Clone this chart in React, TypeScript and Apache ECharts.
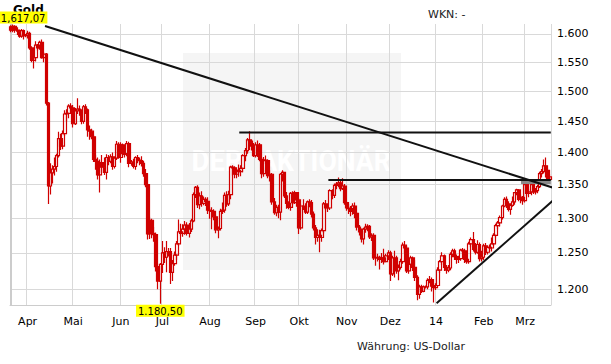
import React, { useEffect, useRef } from "react";
import * as echarts from "echarts";

// Daily candles [open, close, low, high] in USD, one array per month
const mar13 = [
  [1613, 1607, 1603, 1616], [1607, 1614, 1603, 1617.07], [1614, 1607, 1602, 1616], [1607, 1605, 1598, 1612],
  [1605, 1596, 1593, 1608], [1596, 1606, 1593, 1609], [1606, 1597, 1590, 1608], [1597, 1598, 1594, 1600],
];
const apr13 = [
  [1598, 1601, 1592, 1606], [1601, 1575, 1572, 1604], [1575, 1553, 1550, 1578], [1553, 1558, 1539, 1561],
  [1558, 1580, 1551, 1587], [1580, 1575, 1570, 1582], [1575, 1585, 1572, 1588], [1585, 1558, 1556, 1590],
  [1558, 1564, 1550, 1568], [1564, 1480, 1476, 1566], [1480, 1348, 1321, 1482], [1348, 1368, 1335, 1383],
  [1368, 1374, 1352, 1380], [1374, 1378, 1364, 1392], [1378, 1395, 1370, 1398], [1395, 1422, 1392, 1433],
  [1422, 1410, 1404, 1430], [1410, 1430, 1405, 1435], [1430, 1462, 1426, 1468], [1462, 1463, 1450, 1470],
  [1463, 1475, 1455, 1478], [1475, 1472, 1465, 1480],
];
const may13 = [
  [1472, 1446, 1440, 1477], [1446, 1467, 1444, 1472], [1467, 1470, 1462, 1488], [1470, 1468, 1459, 1476],
  [1468, 1450, 1445, 1470], [1450, 1474, 1446, 1477], [1474, 1469, 1462, 1478], [1469, 1436, 1425, 1471],
  [1436, 1434, 1420, 1443], [1434, 1425, 1421, 1438], [1425, 1389, 1385, 1428], [1389, 1386, 1373, 1396],
  [1386, 1365, 1358, 1392], [1365, 1384, 1338, 1389], [1384, 1377, 1368, 1396], [1377, 1369, 1365, 1392],
  [1369, 1392, 1358, 1397], [1392, 1386, 1380, 1396], [1386, 1393, 1383, 1397], [1393, 1378, 1373, 1400],
  [1378, 1391, 1375, 1394], [1391, 1413, 1388, 1418], [1413, 1392, 1390, 1416],
];
const jun13 = [
  [1392, 1412, 1384, 1416], [1412, 1398, 1395, 1414], [1398, 1397, 1392, 1405], [1397, 1414, 1394, 1418],
  [1414, 1383, 1377, 1417], [1383, 1385, 1379, 1388], [1385, 1378, 1375, 1390], [1378, 1392, 1373, 1394],
  [1392, 1388, 1383, 1396], [1388, 1387, 1380, 1392], [1387, 1383, 1378, 1394], [1383, 1367, 1362, 1387],
  [1367, 1350, 1346, 1374], [1350, 1277, 1269, 1352], [1277, 1297, 1270, 1302], [1297, 1278, 1271, 1299],
  [1278, 1276, 1266, 1287], [1276, 1231, 1224, 1279], [1231, 1211, 1200, 1235], [1211, 1234, 1180.5, 1236],
];
const jul13 = [
  [1234, 1250, 1222, 1267], [1250, 1244, 1236, 1258], [1244, 1252, 1223, 1267], [1252, 1252, 1245, 1257],
  [1252, 1223, 1207, 1257], [1223, 1235, 1211, 1240], [1235, 1247, 1232, 1252], [1247, 1263, 1240, 1267],
  [1263, 1280, 1260, 1298], [1280, 1278, 1275, 1292], [1278, 1284, 1273, 1291], [1284, 1290, 1276, 1296],
  [1290, 1278, 1275, 1294], [1278, 1284, 1272, 1293], [1284, 1296, 1280, 1299], [1296, 1335, 1294, 1338],
  [1335, 1346, 1330, 1348], [1346, 1320, 1315, 1349], [1320, 1333, 1313, 1338], [1333, 1322, 1317, 1340],
  [1322, 1328, 1319, 1332], [1328, 1325, 1318, 1331], [1325, 1312, 1306, 1331],
];
const aug13 = [
  [1312, 1311, 1299, 1316], [1311, 1310, 1284, 1316], [1310, 1302, 1297, 1313], [1302, 1283, 1278, 1305],
  [1283, 1285, 1271, 1288], [1285, 1310, 1282, 1314], [1310, 1312, 1306, 1323], [1312, 1334, 1308, 1338],
  [1334, 1321, 1317, 1340], [1321, 1335, 1318, 1341], [1335, 1377, 1328, 1379], [1377, 1376, 1364, 1380],
  [1376, 1366, 1360, 1378], [1366, 1372, 1360, 1374], [1372, 1370, 1362, 1381], [1370, 1375, 1363, 1380],
  [1375, 1395, 1369, 1397], [1395, 1403, 1386, 1407], [1403, 1420, 1398, 1423], [1420, 1418, 1404, 1434],
  [1418, 1410, 1403, 1421], [1410, 1395, 1393, 1415],
];
const sep13 = [
  [1395, 1412, 1392, 1416], [1412, 1412, 1393, 1419], [1412, 1389, 1386, 1415], [1389, 1367, 1360, 1391],
  [1367, 1388, 1362, 1393], [1388, 1387, 1382, 1395], [1387, 1364, 1360, 1389], [1364, 1366, 1355, 1372],
  [1366, 1324, 1320, 1368], [1324, 1308, 1305, 1330], [1308, 1316, 1303, 1320], [1316, 1309, 1300, 1320],
  [1309, 1366, 1297, 1368], [1366, 1369, 1355, 1372], [1369, 1333, 1330, 1370], [1333, 1322, 1314, 1339],
  [1322, 1316, 1313, 1325], [1316, 1337, 1311, 1339], [1337, 1323, 1320, 1340], [1323, 1338, 1321, 1341],
  [1338, 1327, 1317, 1339],
];
const oct13 = [
  [1327, 1286, 1277, 1330], [1286, 1318, 1283, 1321], [1318, 1317, 1312, 1328], [1317, 1309, 1306, 1322],
  [1309, 1324, 1306, 1326], [1324, 1323, 1316, 1328], [1323, 1306, 1301, 1327], [1306, 1286, 1282, 1310],
  [1286, 1272, 1262, 1290], [1272, 1275, 1266, 1284], [1275, 1272, 1251, 1283], [1272, 1282, 1266, 1285],
  [1282, 1321, 1278, 1324], [1321, 1315, 1312, 1327], [1315, 1315, 1309, 1320], [1315, 1341, 1312, 1343],
  [1341, 1334, 1328, 1343], [1334, 1349, 1330, 1352], [1349, 1351, 1343, 1354], [1351, 1353, 1346, 1361],
  [1353, 1344, 1340, 1357], [1344, 1348, 1342, 1360], [1348, 1323, 1320, 1351],
];
const nov13 = [
  [1323, 1315, 1311, 1325], [1315, 1314, 1306, 1321], [1314, 1310, 1303, 1318], [1310, 1318, 1305, 1322],
  [1318, 1307, 1300, 1323], [1307, 1287, 1282, 1309], [1287, 1280, 1275, 1290], [1280, 1270, 1265, 1285],
  [1270, 1284, 1262, 1286], [1284, 1287, 1279, 1292], [1287, 1288, 1281, 1291], [1288, 1273, 1270, 1290],
  [1273, 1275, 1267, 1278], [1275, 1243, 1240, 1278], [1243, 1243, 1232, 1248], [1243, 1244, 1238, 1249],
  [1244, 1241, 1227, 1246], [1241, 1243, 1236, 1250], [1243, 1238, 1234, 1256], [1238, 1246, 1237, 1249],
  [1246, 1250, 1240, 1254],
];
const dec13 = [
  [1250, 1221, 1211, 1253], [1221, 1243, 1218, 1246], [1243, 1243, 1216, 1253], [1243, 1225, 1221, 1246],
  [1225, 1230, 1212, 1234], [1230, 1238, 1227, 1242], [1238, 1261, 1235, 1265], [1261, 1257, 1250, 1267],
  [1257, 1225, 1222, 1260], [1225, 1234, 1221, 1238], [1234, 1243, 1231, 1246], [1243, 1230, 1225, 1245],
  [1230, 1216, 1211, 1240], [1216, 1193, 1185, 1219], [1193, 1203, 1187, 1206], [1203, 1197, 1195, 1206],
  [1197, 1203, 1196, 1205], [1203, 1203, 1201, 1205], [1203, 1212, 1200, 1215], [1212, 1213, 1208, 1218],
  [1213, 1204, 1197, 1216], [1204, 1202, 1182, 1208],
];
const jan14 = [
  [1202, 1205, 1199, 1208], [1205, 1226, 1203, 1230], [1226, 1238, 1222, 1240], [1238, 1246, 1233, 1251],
  [1246, 1230, 1225, 1248], [1230, 1226, 1221, 1233], [1226, 1229, 1223, 1233], [1229, 1248, 1226, 1251],
  [1248, 1253, 1244, 1256], [1253, 1245, 1240, 1256], [1245, 1241, 1235, 1248], [1241, 1242, 1236, 1246],
  [1242, 1254, 1239, 1256], [1254, 1253, 1249, 1257], [1253, 1241, 1236, 1256], [1241, 1238, 1235, 1245],
  [1238, 1263, 1235, 1266], [1263, 1269, 1258, 1272], [1269, 1255, 1252, 1280], [1255, 1251, 1248, 1264],
  [1251, 1262, 1249, 1268], [1262, 1242, 1238, 1265], [1242, 1244, 1238, 1253],
];
const feb14 = [
  [1244, 1260, 1240, 1263], [1260, 1251, 1247, 1264], [1251, 1258, 1248, 1261], [1258, 1257, 1252, 1262],
  [1257, 1263, 1252, 1272], [1263, 1275, 1260, 1278], [1275, 1289, 1272, 1292], [1289, 1293, 1284, 1296],
  [1293, 1301, 1288, 1304], [1301, 1318, 1298, 1320], [1318, 1328, 1316, 1331], [1328, 1321, 1315, 1332],
  [1321, 1313, 1310, 1325], [1313, 1319, 1305, 1322], [1319, 1324, 1317, 1332], [1324, 1338, 1320, 1339],
  [1338, 1342, 1334, 1344], [1342, 1328, 1325, 1343], [1328, 1331, 1322, 1335], [1331, 1326, 1320, 1333],
];
const mar14 = [
  [1326, 1350, 1323, 1355], [1350, 1337, 1333, 1354], [1337, 1339, 1331, 1343], [1339, 1350, 1334, 1352],
  [1350, 1339, 1336, 1353], [1339, 1341, 1335, 1345], [1341, 1347, 1337, 1350], [1347, 1367, 1345, 1370],
  [1367, 1370, 1361, 1374], [1370, 1379, 1367, 1389], [1379, 1372, 1361, 1392], [1372, 1358, 1354, 1375],
  [1358, 1362, 1355, 1366],
];

const firstDay = "2013-03-20";
const monthLabels = ["14", "Feb", "Mrz", "Apr", "Mai", "Jun", "Jul", "Aug", "Sep", "Okt", "Nov", "Dez"];
const yTicks = [1200, 1250, 1300, 1350, 1400, 1450, 1500, 1550, 1600];
const yRange = [1178.8, 1618.1];

const highPoint = { index: 1, price: 1617.07, text: "1,617,07" };
const lowPoint = { index: 72, price: 1180.5, text: "1.180,50" };

// Trend / support lines: [day index, price]
const downTrend = [[16.4, 1614.5], [261.8, 1345.1]];
const upTrend = [[205.3, 1181.1], [263.6, 1332.0]];
const resistAug = [[110.1, 1431.9], [260.4, 1431.9]];
const resistOct = [[153.1, 1357.3], [260.4, 1357.3]];
const grayBand = [[246.0, 1354.0], [260.4, 1354.0]];

const candles = [
  ...mar13, ...apr13, ...may13, ...jun13, ...jul13, ...aug13, ...sep13,
  ...oct13, ...nov13, ...dec13, ...jan14, ...feb14, ...mar14,
];

function weekdays(start: string, n: number): string[] {
  const out: string[] = [];
  const d = new Date(start + "T00:00:00Z");
  while (out.length < n) {
    const wd = d.getUTCDay();
    if (wd !== 0 && wd !== 6) out.push(d.toISOString().slice(0, 10));
    d.setUTCDate(d.getUTCDate() + 1);
  }
  return out;
}

const FONT = "DejaVu Sans";
const RED = "#d00000";
const GRID = "#d9d9d9";

export default function App() {
  const ref = useRef<HTMLDivElement>(null);

  useEffect(() => {
    if (!ref.current) return;
    const chart = echarts.init(ref.current, undefined, { renderer: "svg" });
    const dates = weekdays(firstDay, candles.length);
    const isMonthStart = (i: number) => i > 0 && dates[i].slice(5, 7) !== dates[i - 1].slice(5, 7);
    const L = Math.log;
    const fmt = (v: number) => {
      const n = Math.round(Math.exp(v));
      return Math.floor(n / 1000) + "." + String(n % 1000).padStart(3, "0");
    };
    const lineSeries = (pts: number[][], color: string, width: number, z: number) => ({
      type: "line",
      xAxisIndex: 1,
      yAxisIndex: 0,
      data: pts.map((p) => [p[0], L(p[1])]),
      symbol: "none",
      clip: false,
      silent: true,
      z,
      lineStyle: { color, width },
    });
    const yMin = L(yRange[0]);
    const yMax = L(yRange[1]);
    const tickVals = yTicks.map((v) => L(v));
    const yellow = {
      show: true,
      backgroundColor: "#ffff00",
      color: "#000",
      fontFamily: FONT,
      fontSize: 10,
      lineHeight: 11,
      padding: [1, 2, 0, 2],
    };

    chart.setOption({
      animation: false,
      backgroundColor: "#fff",
      grid: { left: 10, right: 60, top: 24, bottom: 59 },
      xAxis: [
        {
          type: "category",
          data: dates,
          boundaryGap: true,
          axisLine: { show: true, lineStyle: { color: "#cccccc" } },
          axisTick: { show: false },
          axisLabel: {
            interval: (i: number) => isMonthStart(i),
            formatter: (v: string) => monthLabels[parseInt(v.slice(5, 7), 10) - 1],
            color: "#000",
            fontFamily: FONT,
            fontSize: 11,
            margin: 11,
          },
          splitLine: { show: true, interval: (i: number) => isMonthStart(i), lineStyle: { color: GRID } },
        },
        { type: "value", min: -0.5, max: candles.length - 0.5, show: false },
      ],
      yAxis: [
        {
          type: "value",
          position: "right",
          min: yMin,
          max: yMax,
          axisLine: { show: true, lineStyle: { color: "#cccccc" } },
          axisTick: { show: false, customValues: tickVals },
          axisLabel: {
            customValues: tickVals,
            formatter: fmt,
            color: "#000",
            fontFamily: FONT,
            fontSize: 11,
            margin: 6,
          },
          splitLine: { show: true, lineStyle: { color: GRID } },
        },
        {
          type: "value",
          position: "left",
          min: yMin,
          max: yMax,
          axisLine: { show: true, lineStyle: { color: "#cccccc" } },
          axisTick: { show: false },
          axisLabel: { show: false },
          splitLine: { show: false },
        },
      ],
      graphic: [
        { type: "rect", z: -10, shape: { x: 183, y: 53, width: 218, height: 217 }, style: { fill: "#f5f5f5" } },
        {
          type: "text", z: -9, x: 217, y: 161, scaleX: 0.95,
          style: { text: "DER", x: 0, y: 0, align: "center", verticalAlign: "middle", textAlign: "center", textVerticalAlign: "middle", font: "bold 29px Roboto", fill: "#ffffff" },
        },
        {
          type: "text", z: -9, x: 325, y: 161, scaleX: 0.92,
          style: { text: "AKTIONÄR", x: 0, y: 0, align: "center", verticalAlign: "middle", textAlign: "center", textVerticalAlign: "middle", font: "bold 29px Roboto", fill: "#ffffff" },
        },
        {
          type: "text", z: 0, x: 13, y: 4,
          style: { text: "Gold", font: "bold 12px 'DejaVu Sans'", fill: "#000" },
        },
        {
          type: "text", z: 0, x: 428, y: 9,
          style: { text: "WKN: -", font: "11px 'DejaVu Sans'", fill: "#222" },
        },
        {
          type: "text", z: 0, x: 357, y: 341,
          style: { text: "Währung: US-Dollar", font: "11px 'DejaVu Sans'", fill: "#222" },
        },
      ],
      series: [
        {
          type: "candlestick",
          data: candles.map((r) => r.map((v) => L(v))),
          barWidth: 3,
          z: 2,
          itemStyle: { color: "rgba(255,255,255,0)", color0: RED, borderColor: RED, borderColor0: RED, borderWidth: 1.2 },
          markPoint: {
            symbol: "rect",
            symbolSize: 0,
            silent: true,
            data: [
              { coord: [highPoint.index, L(highPoint.price)], label: { ...yellow, formatter: highPoint.text, position: "top", distance: 1, offset: [10, 0] } },
              { coord: [lowPoint.index, L(lowPoint.price)], label: { ...yellow, formatter: lowPoint.text, position: "bottom", distance: 1 } },
            ],
          },
        },
        lineSeries(grayBand, "#8a8a8a", 4, 3),
        lineSeries(resistAug, "#111111", 2, 4),
        lineSeries(resistOct, "#111111", 2, 4),
        lineSeries(downTrend, "#111111", 2, 4),
        lineSeries(upTrend, "#111111", 2, 4),
      ],
    });
    return () => chart.dispose();
  }, []);

  return <div ref={ref} style={{ width: 611, height: 364, position: "absolute", left: 0, top: 0 }} />;
}
